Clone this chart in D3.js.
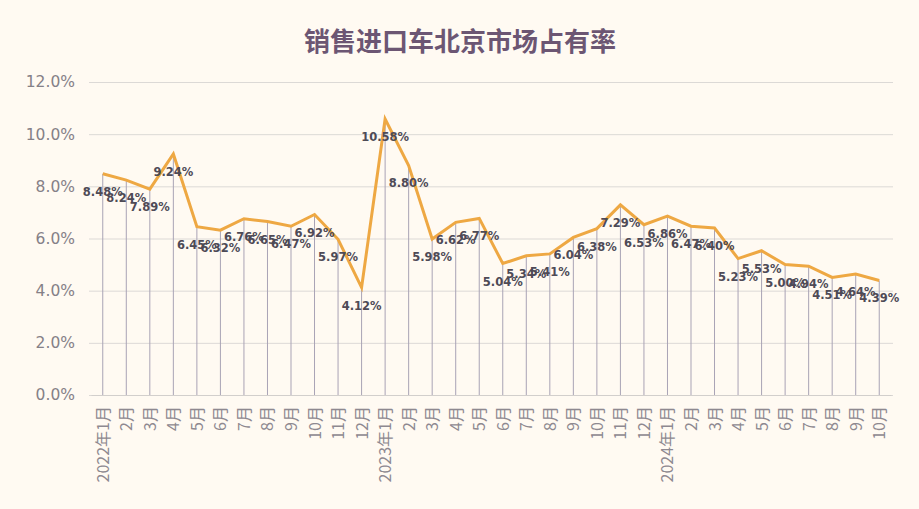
<!DOCTYPE html>
<html>
<head>
<meta charset="utf-8">
<script src="https://cdn.jsdelivr.net/npm/d3@7"></script>
<style>
  body { margin: 0; background: #fffaf2; }
  svg { display: block; }
</style>
</head>
<body>
<div id="chart"></div>
<script>
// months shown on the x axis
const months = [
  '2022年1月', '2月', '3月', '4月', '5月', '6月', '7月', '8月', '9月', '10月', '11月', '12月',
  '2023年1月', '2月', '3月', '4月', '5月', '6月', '7月', '8月', '9月', '10月', '11月', '12月',
  '2024年1月', '2月', '3月', '4月', '5月', '6月', '7月', '8月', '9月', '10月'
];
// market share (%)
const share = [
  8.48, 8.24, 7.89, 9.24, 6.45, 6.32, 6.76, 6.65, 6.47, 6.92, 5.97, 4.12,
  10.58, 8.80, 5.98, 6.62, 6.77, 5.04, 5.34, 5.41, 6.04, 6.38, 7.29, 6.53,
  6.86, 6.47, 6.40, 5.23, 5.53, 5.00, 4.94, 4.51, 4.64, 4.39
];
const yTicks = [0, 2, 4, 6, 8, 10, 12];

const data = months.map((m, i) => ({ key: i, month: m, value: share[i] }));

const width = 919;
const height = 509;
const margin = { top: 82, right: 28, bottom: 114, left: 91 };

const svg = d3
  .select('#chart')
  .append('svg')
  .attr('width', width)
  .attr('height', height);

svg.append('rect').attr('width', width).attr('height', height).attr('fill', '#fffaf2');

const x = d3
  .scaleBand()
  .domain(data.map((d) => d.key))
  .range([margin.left, width - margin.right]);

const y = d3
  .scaleLinear()
  .domain([0, 12])
  .range([height - margin.bottom, margin.top]);

const cx = (d) => x(d.key) + x.bandwidth() / 2;

// title
svg
  .append('text')
  .attr('x', 460)
  .attr('y', 51)
  .attr('text-anchor', 'middle')
  .attr('font-family', '"Noto Sans CJK SC", sans-serif')
  .attr('font-weight', 'bold')
  .attr('font-size', 26)
  .attr('fill', '#6c5673')
  .text('销售进口车北京市场占有率');

// gridlines + y labels
const yAxis = svg
  .append('g')
  .attr('transform', `translate(${margin.left - 2},0)`)
  .call(
    d3.axisLeft(y)
      .tickValues(yTicks)
      .tickSize(-(width - margin.right - margin.left + 4))
      .tickPadding(14)
      .tickFormat((d) => d.toFixed(1) + '%')
  );
yAxis.select('.domain').remove();
yAxis.selectAll('line').attr('stroke', '#dcd9d6');
yAxis
  .selectAll('text')
  .attr('font-family', '"DejaVu Sans", sans-serif')
  .attr('font-size', 15.5)
  .attr('fill', '#858087');

// drop lines
svg
  .append('g')
  .selectAll('line')
  .data(data)
  .join('line')
  .attr('x1', cx)
  .attr('x2', cx)
  .attr('y1', (d) => y(d.value))
  .attr('y2', y(0))
  .attr('stroke', '#a9a3b5')
  .attr('stroke-width', 1);

// x axis
const xAxis = svg
  .append('g')
  .attr('transform', `translate(0,${y(0)})`)
  .call(d3.axisBottom(x).tickSize(0).tickFormat((i) => months[i]));
xAxis.select('.domain').attr('stroke', '#d2cfcc');
xAxis
  .selectAll('text')
  .attr('font-family', '"Noto Sans CJK SC", sans-serif')
  .attr('font-size', 16)
  .attr('fill', '#8e8990')
  .attr('text-anchor', 'end')
  .attr('dy', null)
  .attr('y', null)
  .attr('transform', 'translate(6,11) rotate(-90)');

// line
svg
  .append('path')
  .datum(data)
  .attr('fill', 'none')
  .attr('stroke', '#eea843')
  .attr('stroke-width', 3)
  .attr('stroke-linejoin', 'miter')
  .attr('d', d3.line().x(cx).y((d) => y(d.value)));

// value labels, below each point
svg
  .append('g')
  .selectAll('text')
  .data(data)
  .join('text')
  .attr('x', cx)
  .attr('y', (d) => y(d.value) + 22)
  .attr('text-anchor', 'middle')
  .attr('font-family', '"DejaVu Sans", sans-serif')
  .attr('font-weight', 'bold')
  .attr('font-size', 11.5)
  .attr('fill', '#4e4a56')
  .text((d) => d.value.toFixed(2) + '%');
</script>
</body>
</html>
